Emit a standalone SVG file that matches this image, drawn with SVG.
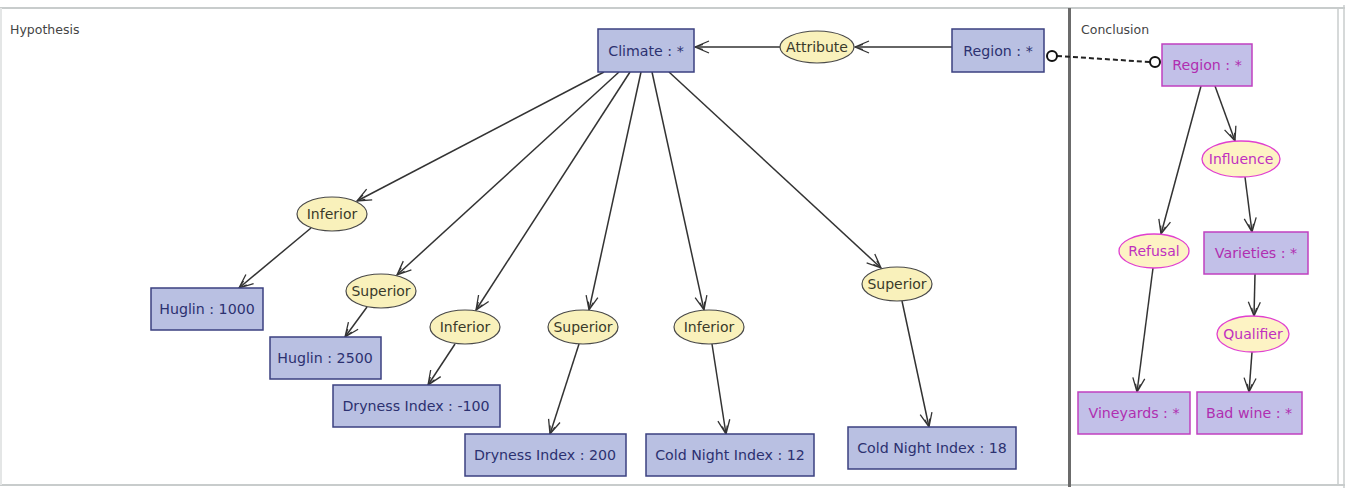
<svg xmlns="http://www.w3.org/2000/svg" width="1350" height="490" viewBox="0 0 1350 490">
<defs>
<style>
.rh{fill:#b9c0e2;stroke:#3b4080;stroke-width:1.5}
.th{fill:#2c3170;font-family:"DejaVu Sans",Verdana,sans-serif;font-size:14.2px;text-anchor:middle;dominant-baseline:central}
.eh{fill:#f9f1bb;stroke:#4a4a4a;stroke-width:1.2}
.te{fill:#3a3a2a;font-family:"DejaVu Sans",Verdana,sans-serif;font-size:14px;text-anchor:middle;dominant-baseline:central}
.rc{fill:#c2c0e8;stroke:#c040c0;stroke-width:1.5}
.tc{fill:#b02eb0;font-family:"DejaVu Sans",Verdana,sans-serif;font-size:14.2px;text-anchor:middle;dominant-baseline:central}
.ec{fill:#fdf3c4;stroke:#e040d0;stroke-width:1.3}
.tec{fill:#c030c0;font-family:"DejaVu Sans",Verdana,sans-serif;font-size:14px;text-anchor:middle;dominant-baseline:central}
.lbl{fill:#444;font-family:"DejaVu Sans",Verdana,sans-serif;font-size:12.5px}
.ed{stroke:#333;stroke-width:1.5;fill:none;marker-end:url(#arr)}
</style>
<marker id="arr" viewBox="0 0 16 14" refX="15" refY="7" markerWidth="16" markerHeight="14" markerUnits="userSpaceOnUse" orient="auto">
<path d="M1,1 L15,7 L1,13 M7,4.5 L15,7 L7,9.5" fill="none" stroke="#333" stroke-width="1.3"/>
</marker>
</defs>
<rect x="0" y="0" width="1350" height="490" fill="#ffffff"/>
<g id="frame">
<line x1="0" y1="8" x2="1345" y2="8" stroke="#c8cccc" stroke-width="2"/>
<line x1="0" y1="485" x2="1345" y2="485" stroke="#c8cccc" stroke-width="2"/>
<line x1="1" y1="8" x2="1" y2="485" stroke="#e4e6e6" stroke-width="2"/>
<line x1="1338" y1="8" x2="1338" y2="485" stroke="#c8cccc" stroke-width="1.5"/>
<line x1="1344" y1="5" x2="1344" y2="488" stroke="#c8cccc" stroke-width="1.5"/>
<line x1="1069.5" y1="8" x2="1069.5" y2="487" stroke="#6b6b6b" stroke-width="3"/>
<text class="lbl" x="10" y="34">Hypothesis</text>
<text class="lbl" x="1081" y="34">Conclusion</text>
</g>
<g id="connectors">
<line class="ed" x1="952" y1="47" x2="855" y2="47"/>
<line class="ed" x1="780" y1="47" x2="695" y2="47"/>
<line class="ed" x1="604" y1="72" x2="357" y2="201"/>
<line class="ed" x1="619" y1="72" x2="397" y2="275"/>
<line class="ed" x1="630" y1="72" x2="476" y2="310"/>
<line class="ed" x1="641" y1="72" x2="589" y2="310"/>
<line class="ed" x1="652" y1="72" x2="704" y2="310"/>
<line class="ed" x1="669" y1="72" x2="881" y2="268"/>
<line class="ed" x1="311" y1="228" x2="239" y2="288"/>
<line class="ed" x1="367" y1="307" x2="345" y2="337"/>
<line class="ed" x1="455" y1="344" x2="428" y2="385"/>
<line class="ed" x1="579" y1="344" x2="550" y2="434"/>
<line class="ed" x1="712" y1="344" x2="726" y2="434"/>
<line class="ed" x1="902" y1="301" x2="929" y2="427"/>
<line x1="1057" y1="56" x2="1150" y2="62" stroke="#222" stroke-width="2" stroke-dasharray="5,3"/>
<circle cx="1052" cy="56" r="5" fill="#fff" stroke="#111" stroke-width="2"/>
<circle cx="1155" cy="62" r="5" fill="#fff" stroke="#111" stroke-width="2"/>
<line class="ed" x1="1201" y1="86" x2="1161" y2="234"/>
<line class="ed" x1="1215" y1="86" x2="1235" y2="141"/>
<line class="ed" x1="1245" y1="177" x2="1252" y2="232"/>
<line class="ed" x1="1255" y1="274" x2="1254" y2="316"/>
<line class="ed" x1="1252" y1="352" x2="1249" y2="392"/>
<line class="ed" x1="1153" y1="268" x2="1137" y2="392"/>
</g>
<g id="climate"><rect class="rh" x="598" y="29" width="96" height="43"/><text class="th" x="646" y="51">Climate : *</text></g>
<g id="attribute"><ellipse class="eh" cx="817" cy="47" rx="37" ry="16"/><text class="te" x="817" y="47">Attribute</text></g>
<g id="region-h"><rect class="rh" x="952" y="29" width="92" height="43"/><text class="th" x="998" y="51">Region : *</text></g>
<g id="inferior1"><ellipse class="eh" cx="332" cy="214" rx="35" ry="17"/><text class="te" x="332" y="214">Inferior</text></g>
<g id="huglin1000"><rect class="rh" x="151" y="288" width="112" height="42"/><text class="th" x="207" y="309">Huglin : 1000</text></g>
<g id="superior1"><ellipse class="eh" cx="381" cy="291" rx="35" ry="17"/><text class="te" x="381" y="291">Superior</text></g>
<g id="huglin2500"><rect class="rh" x="270" y="337" width="111" height="42"/><text class="th" x="325" y="358">Huglin : 2500</text></g>
<g id="inferior2"><ellipse class="eh" cx="465" cy="327" rx="35" ry="17"/><text class="te" x="465" y="327">Inferior</text></g>
<g id="dryness-100"><rect class="rh" x="333" y="385" width="167" height="42"/><text class="th" x="416" y="406">Dryness Index : -100</text></g>
<g id="superior2"><ellipse class="eh" cx="583" cy="327" rx="35" ry="17"/><text class="te" x="583" y="327">Superior</text></g>
<g id="dryness200"><rect class="rh" x="465" y="434" width="161" height="42"/><text class="th" x="545" y="455">Dryness Index : 200</text></g>
<g id="inferior3"><ellipse class="eh" cx="709" cy="327" rx="35" ry="17"/><text class="te" x="709" y="327">Inferior</text></g>
<g id="coldnight12"><rect class="rh" x="646" y="434" width="168" height="42"/><text class="th" x="730" y="455">Cold Night Index : 12</text></g>
<g id="superior3"><ellipse class="eh" cx="897" cy="284" rx="35" ry="17"/><text class="te" x="897" y="284">Superior</text></g>
<g id="coldnight18"><rect class="rh" x="848" y="427" width="168" height="42"/><text class="th" x="932" y="448">Cold Night Index : 18</text></g>
<g id="region-c"><rect class="rc" x="1162" y="44" width="90" height="42"/><text class="tc" x="1207" y="65">Region : *</text></g>
<g id="influence"><ellipse class="ec" cx="1241" cy="159" rx="39" ry="18"/><text class="tec" x="1241" y="159">Influence</text></g>
<g id="refusal"><ellipse class="ec" cx="1154" cy="251" rx="35" ry="17"/><text class="tec" x="1154" y="251">Refusal</text></g>
<g id="varieties"><rect class="rc" x="1204" y="232" width="104" height="42"/><text class="tc" x="1256" y="253">Varieties : *</text></g>
<g id="qualifier"><ellipse class="ec" cx="1253" cy="334" rx="36" ry="18"/><text class="tec" x="1253" y="334">Qualifier</text></g>
<g id="vineyards"><rect class="rc" x="1078" y="392" width="112" height="42"/><text class="tc" x="1134" y="413">Vineyards : *</text></g>
<g id="badwine"><rect class="rc" x="1197" y="392" width="105" height="42"/><text class="tc" x="1249" y="413">Bad wine : *</text></g>
</svg>
